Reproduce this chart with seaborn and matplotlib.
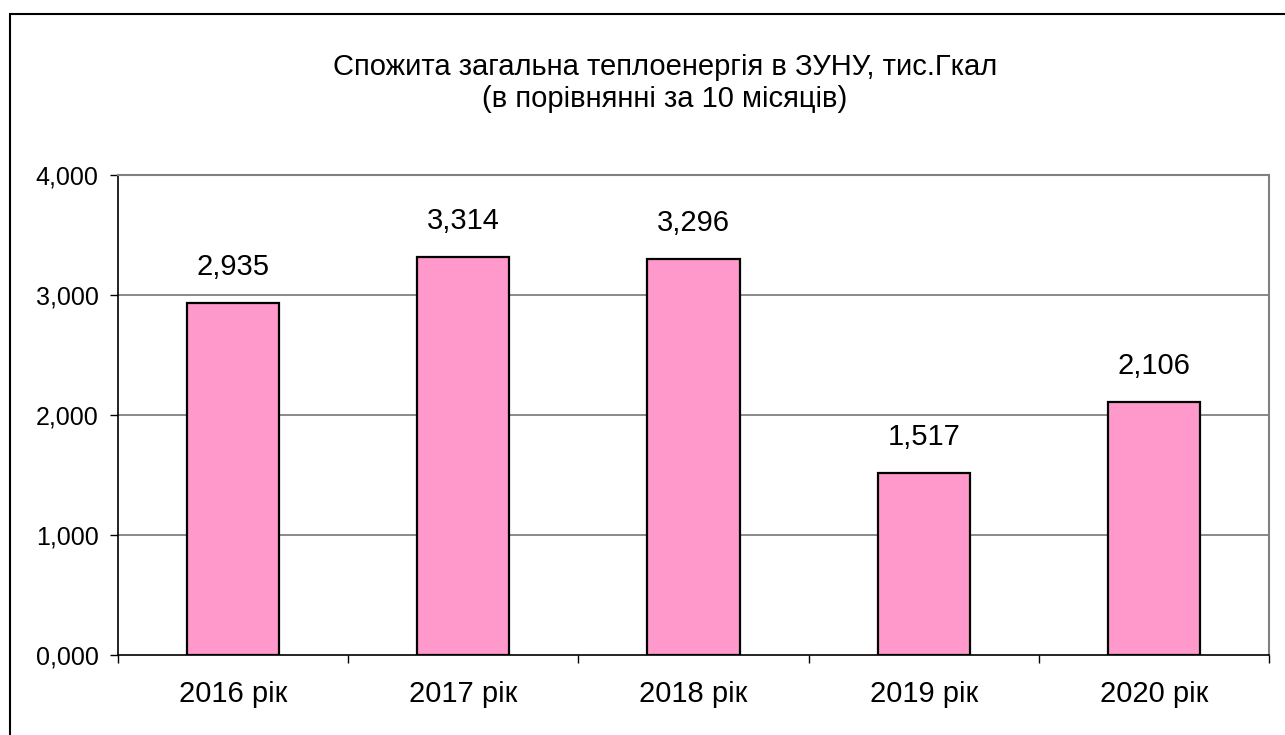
import matplotlib
matplotlib.use("Agg")
import matplotlib.pyplot as plt
import matplotlib.ticker as mticker
from matplotlib.patches import Rectangle
import seaborn as sns
import pandas as pd

categories = ["2016 рік", "2017 рік", "2018 рік", "2019 рік", "2020 рік"]
values = [2.935, 3.314, 3.296, 1.517, 2.106]
y_ticks = [0, 1, 2, 3, 4]
title = "Спожита загальна теплоенергія в ЗУНУ, тис.Гкал\n(в порівнянні за 10 місяців)"

sns.set_theme(style="white")
plt.rcParams["font.family"] = ["Liberation Sans", "DejaVu Sans"]

df = pd.DataFrame({"cat": categories, "val": values})

fig = plt.figure(figsize=(12.85, 7.35), dpi=100)
ax = fig.add_axes([118/1285, 1-655/735, (1269-118)/1285, (655-175)/735])

sns.barplot(data=df, x="cat", y="val", ax=ax, color="#FF99CC", saturation=1,
            edgecolor="black", linewidth=1.6, width=0.4, zorder=3)

ax.set_ylim(0, 4)
ax.set_xlim(-0.5, len(categories) - 0.5)
ax.set_yticks(y_ticks)
ax.yaxis.set_major_formatter(mticker.FuncFormatter(lambda v, p: f"{v:.3f}".replace(".", ",")))
for y in y_ticks[1:]:
    ax.axhline(y, color="#808080", lw=1.3, zorder=1)

ax.set_xlabel("")
ax.set_ylabel("")
ax.tick_params(axis="x", which="major", length=0, pad=18, labelsize=21, colors="black")
ax.set_xticks([i - 0.5 for i in range(len(categories) + 1)], minor=True)
ax.tick_params(axis="x", which="minor", direction="out", length=6, width=1, color="black", bottom=True)
ax.tick_params(axis="y", direction="out", length=6, width=1, color="black", left=True, labelsize=18, pad=8, labelcolor="black")

for s in ["left", "bottom"]:
    ax.spines[s].set_color("black")
    ax.spines[s].set_linewidth(1.2)
ax.spines["right"].set_color("#808080")
ax.spines["right"].set_linewidth(1.5)
ax.spines["top"].set_color("#808080")
ax.spines["top"].set_linewidth(1.5)

for i, v in enumerate(values):
    ax.text(i, v + 0.3, f"{v:.3f}".replace(".", ","), ha="center", va="center",
            fontsize=21, color="black")

fig.text(665/1285, 1-83/735, title, ha="center", va="center", fontsize=21,
         color="black", linespacing=1.22)

fig.patches.append(Rectangle((10/1285, -0.1), 1.2, 1-14/735 + 0.1, transform=fig.transFigure,
                             fill=False, edgecolor="black", lw=1.5))

fig.savefig("out.png", dpi=100, facecolor="white")
